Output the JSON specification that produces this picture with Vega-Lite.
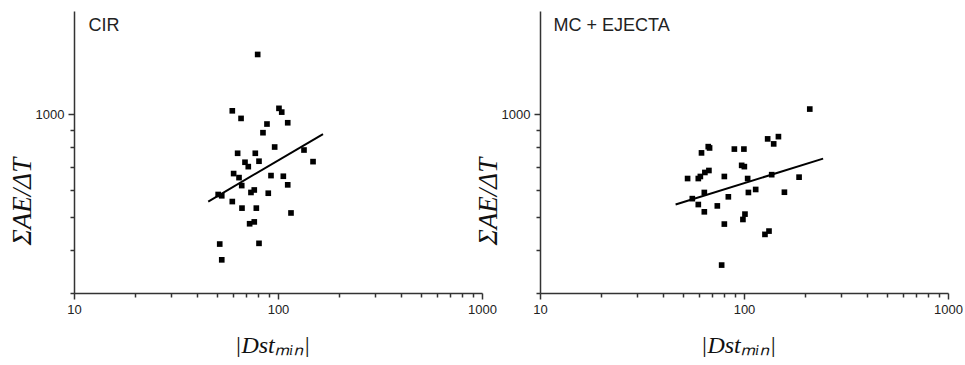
{
  "$schema": "https://vega.github.io/schema/vega-lite/v6.json",
  "padding": {"left": 8, "top": 11, "right": 0, "bottom": 0},
  "background": "white",
  "bounds": "flush",
  "spacing": 58,
  "datasets": {
    "cir": [
      {"dst": 79.5, "ae": 1493}, {"dst": 59.7, "ae": 1022}, {"dst": 65.9, "ae": 971}, {"dst": 101.1, "ae": 1039},
      {"dst": 104.3, "ae": 1013}, {"dst": 111.6, "ae": 943}, {"dst": 88.3, "ae": 935}, {"dst": 84.4, "ae": 882},
      {"dst": 96.3, "ae": 801}, {"dst": 63.4, "ae": 768}, {"dst": 77.4, "ae": 768}, {"dst": 68.9, "ae": 723},
      {"dst": 71.5, "ae": 702}, {"dst": 80.7, "ae": 728}, {"dst": 134.1, "ae": 785}, {"dst": 148.5, "ae": 726},
      {"dst": 60.6, "ae": 670}, {"dst": 64.4, "ae": 652}, {"dst": 66.4, "ae": 618}, {"dst": 92.4, "ae": 661},
      {"dst": 106.2, "ae": 658}, {"dst": 111.6, "ae": 621}, {"dst": 73.7, "ae": 590}, {"dst": 76.5, "ae": 600},
      {"dst": 89.6, "ae": 587}, {"dst": 50.9, "ae": 582}, {"dst": 53.0, "ae": 577}, {"dst": 59.7, "ae": 555},
      {"dst": 66.6, "ae": 531}, {"dst": 78.3, "ae": 531}, {"dst": 115.8, "ae": 514}, {"dst": 72.6, "ae": 478},
      {"dst": 76.5, "ae": 484}, {"dst": 51.8, "ae": 417}, {"dst": 80.7, "ae": 419}, {"dst": 53.0, "ae": 375}
    ],
    "cirfit": [{"dst": 45.5, "ae": 555}, {"dst": 166.2, "ae": 874}],
    "mc": [
      {"dst": 210.1, "ae": 1034}, {"dst": 130.6, "ae": 846}, {"dst": 147.5, "ae": 859}, {"dst": 139.8, "ae": 818},
      {"dst": 61.9, "ae": 770}, {"dst": 66.8, "ae": 803}, {"dst": 67.8, "ae": 796}, {"dst": 89.7, "ae": 790},
      {"dst": 99.9, "ae": 790}, {"dst": 97.4, "ae": 708}, {"dst": 100.4, "ae": 702}, {"dst": 52.9, "ae": 648},
      {"dst": 59.7, "ae": 648}, {"dst": 61.1, "ae": 657}, {"dst": 64.3, "ae": 675}, {"dst": 67.3, "ae": 684},
      {"dst": 80.1, "ae": 657}, {"dst": 104.2, "ae": 648}, {"dst": 136.7, "ae": 665}, {"dst": 186.2, "ae": 654},
      {"dst": 55.8, "ae": 566}, {"dst": 63.9, "ae": 590}, {"dst": 83.8, "ae": 573}, {"dst": 105.1, "ae": 590},
      {"dst": 114.1, "ae": 602}, {"dst": 157.8, "ae": 591}, {"dst": 59.7, "ae": 544}, {"dst": 63.9, "ae": 518},
      {"dst": 74.0, "ae": 539}, {"dst": 101.1, "ae": 510}, {"dst": 98.8, "ae": 492}, {"dst": 80.1, "ae": 477},
      {"dst": 126.7, "ae": 445}, {"dst": 132.6, "ae": 455}, {"dst": 77.7, "ae": 362}
    ],
    "mcfit": [{"dst": 46.2, "ae": 544}, {"dst": 244.2, "ae": 741}]
  },
  "hconcat": [
    {
      "width": 408,
      "height": 282,
      "encoding": {
        "y": {"field": "ae", "type": "quantitative", "scale": {"type": "log", "domain": [300, 2000], "nice": false},
          "axis": {"values": [300,400,500,600,700,800,900,1000],
            "labelExpr": "datum.value==1000 ? '1000' : ''",
            "tickSize": {"condition": {"test": "datum.value==1000", "value": 6}, "value": 4},
            "labelPadding": 4,
            "title": "ΣAE/ΔT", "titleX": -44, "titleY": 190, "titleBaseline": "alphabetic", "titleAngle": -90, "titleAlign": "center", "titleColor": "#111", "titleFontSize": 27}}
      },
      "layer": [
        {"data": {"name": "cir"}, "mark": {"type": "square", "size": 32, "color": "black", "opacity": 1},
          "encoding": {"x": {"field": "dst", "type": "quantitative", "scale": {"type": "log", "domain": [10, 1000], "nice": false},
            "axis": {"orient": "bottom", "values": [10,20,30,40,50,60,70,80,90,100,200,300,400,500,600,700,800,900,1000],
              "labelExpr": "(datum.value==10||datum.value==100||datum.value==1000) ? format(datum.value,'d') : ''",
              "tickSize": {"condition": {"test": "datum.value==10||datum.value==100||datum.value==1000", "value": 6}, "value": 4},
              "labelPadding": 4,
              "title": "|Dstₘᵢₙ|", "titleX": 198, "titleY": 59, "titleBaseline": "alphabetic", "titleAlign": "center", "titleColor": "#111", "titleFontSize": 24}}}},
        {"data": {"name": "cirfit"}, "mark": {"type": "line", "color": "black", "strokeWidth": 2},
          "encoding": {"x": {"field": "dst", "type": "quantitative", "scale": {"type": "log", "domain": [10, 1000], "nice": false},
            "axis": {"orient": "top", "domain": false, "ticks": false, "labels": false,
              "title": "CIR", "titleX": 14, "titleY": 19, "titleAlign": "left", "titleAnchor": "start", "titleBaseline": "alphabetic",
              "titleFont": "Liberation Sans", "titleFontStyle": "normal", "titleFontSize": 18, "titleColor": "#222"}}}}
      ]
    },
    {
      "width": 408,
      "height": 282,
      "encoding": {
        "y": {"field": "ae", "type": "quantitative", "scale": {"type": "log", "domain": [300, 2000], "nice": false},
          "axis": {"values": [300,400,500,600,700,800,900,1000],
            "labelExpr": "datum.value==1000 ? '1000' : ''",
            "tickSize": {"condition": {"test": "datum.value==1000", "value": 6}, "value": 4},
            "labelPadding": 4,
            "title": "ΣAE/ΔT", "titleX": -44, "titleY": 190, "titleBaseline": "alphabetic", "titleAngle": -90, "titleAlign": "center", "titleColor": "#111", "titleFontSize": 27}}
      },
      "layer": [
        {"data": {"name": "mc"}, "mark": {"type": "square", "size": 32, "color": "black", "opacity": 1},
          "encoding": {"x": {"field": "dst", "type": "quantitative", "scale": {"type": "log", "domain": [10, 1000], "nice": false},
            "axis": {"orient": "bottom", "values": [10,20,30,40,50,60,70,80,90,100,200,300,400,500,600,700,800,900,1000],
              "labelExpr": "(datum.value==10||datum.value==100||datum.value==1000) ? format(datum.value,'d') : ''",
              "tickSize": {"condition": {"test": "datum.value==10||datum.value==100||datum.value==1000", "value": 6}, "value": 4},
              "labelPadding": 4,
              "title": "|Dstₘᵢₙ|", "titleX": 198, "titleY": 59, "titleBaseline": "alphabetic", "titleAlign": "center", "titleColor": "#111", "titleFontSize": 24}}}},
        {"data": {"name": "mcfit"}, "mark": {"type": "line", "color": "black", "strokeWidth": 2},
          "encoding": {"x": {"field": "dst", "type": "quantitative", "scale": {"type": "log", "domain": [10, 1000], "nice": false},
            "axis": {"orient": "top", "domain": false, "ticks": false, "labels": false,
              "title": "MC + EJECTA", "titleX": 13, "titleY": 19, "titleAlign": "left", "titleAnchor": "start", "titleBaseline": "alphabetic",
              "titleFont": "Liberation Sans", "titleFontStyle": "normal", "titleFontSize": 18, "titleColor": "#222"}}}}
      ]
    }
  ],
  "resolve": {"scale": {"x": "independent", "y": "independent"}},
  "config": {
    "view": {"stroke": null},
    "axis": {
      "grid": false,
      "domainColor": "#333", "domainWidth": 1.5,
      "tickColor": "#333", "tickWidth": 1.5,
      "labelFont": "Liberation Sans", "labelFontSize": 13, "labelColor": "#222",
      "labelOverlap": false, "labelFlush": false,
      "titleFont": "Liberation Serif", "titleFontStyle": "italic", "titleFontWeight": "normal", "titleColor": "#111"
    }
  }
}
